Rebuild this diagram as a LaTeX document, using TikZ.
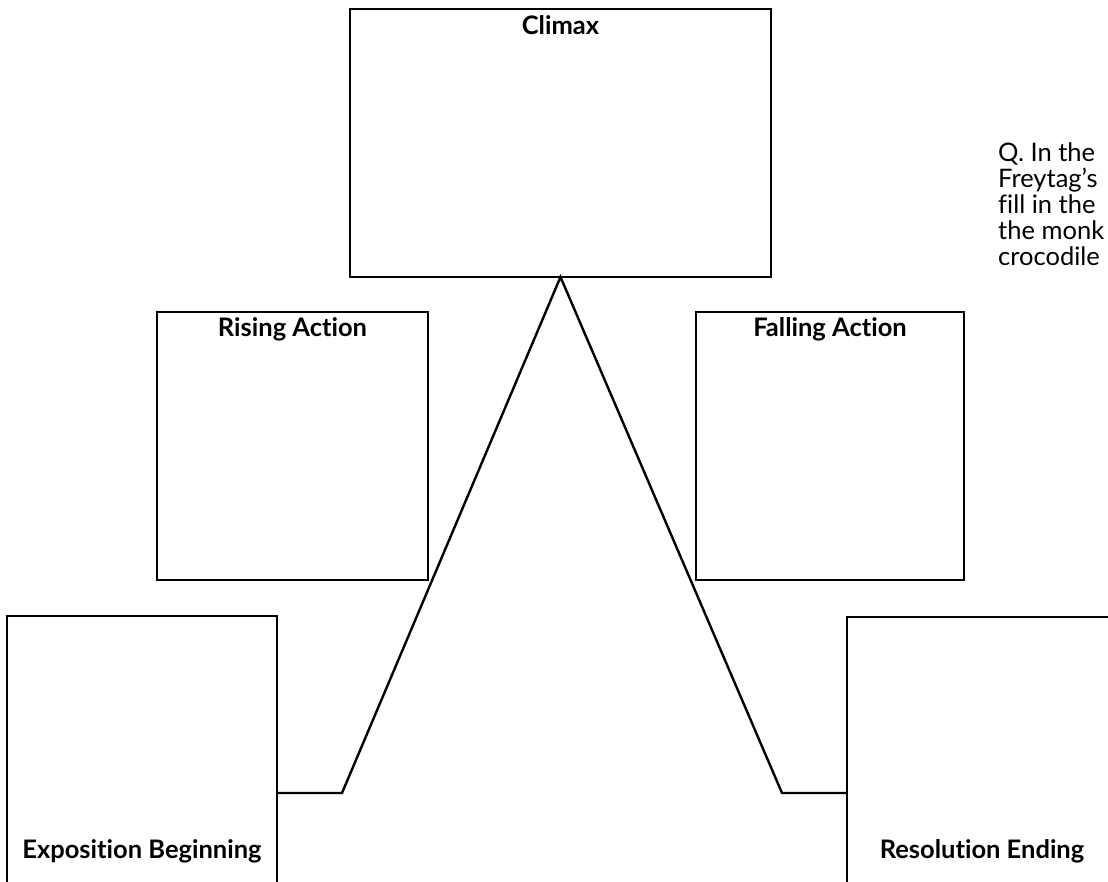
\documentclass[tikz,border=0pt]{standalone}
\usepackage{fontspec}
\setmainfont{Lato}[Ligatures=NoCommon]
\usepackage{xcolor}
\usepackage{tikz}
\usetikzlibrary{positioning,calc}
\definecolor{ink}{HTML}{000000}
\tikzset{
    panel/.style={
        draw=ink, fill=white, line width=2.6pt,
        inner sep=0pt, outer sep=0pt
    },
    paneltitle/.style={
        font=\fontsize{25.5}{28}\selectfont\bfseries, anchor=base,
        inner sep=0pt
    },
    plotline/.style={draw=ink, line width=2.4pt, line join=miter},
    question/.style={
        font=\fontsize{25.5}{26}\selectfont, anchor=north west,
        align=left, inner sep=0pt
    },
}
\begin{document}
\begin{tikzpicture}[x=1pt, y=-1pt]
    \useasboundingbox (0,0) rectangle (1108,881);
    \clip (0,0) rectangle (1108,881);
    \fill[white] (0,0) rectangle (1108,881);
    % boxes
    \node[panel, minimum width=421pt, minimum height=268pt] (climax) at (560.5,143) {};
    \node[panel, minimum width=271pt, minimum height=268pt] (rising) at (292.5,446) {};
    \node[panel, minimum width=268pt, minimum height=268pt] (falling) at (830,446) {};
    \node[panel, minimum width=270pt, minimum height=290pt] (expo) at (142,761) {};
    \node[panel, minimum width=270pt, minimum height=290pt] (reso) at (982,762) {};
    % titles
    \node[paneltitle] (climaxtitle) at ($(climax.north)+(0,25)$) {Climax};
    \node[paneltitle] (risingtitle) at ($(rising.north)+(0,24)$) {Rising Action};
    \node[paneltitle] (fallingtitle) at ($(falling.north)+(0,24)$) {Falling Action};
    \node[paneltitle] (expotitle) at (142,858) {Exposition Beginning};
    \node[paneltitle] (resotitle) at (982,858) {Resolution Ending};
    % plot line
    \coordinate (risefoot) at (342,793);
    \coordinate (fallfoot) at (782,793);
    \draw[plotline] (expo.east |- risefoot) -- (risefoot) -- (climax.south)
        -- (fallfoot) -- (reso.west |- fallfoot);
    % question
    \node[question] (qtext) at (998,143) {Q. In the\\Freytag's\\fill in the\\the monk\\crocodile};
\end{tikzpicture}
\end{document}
